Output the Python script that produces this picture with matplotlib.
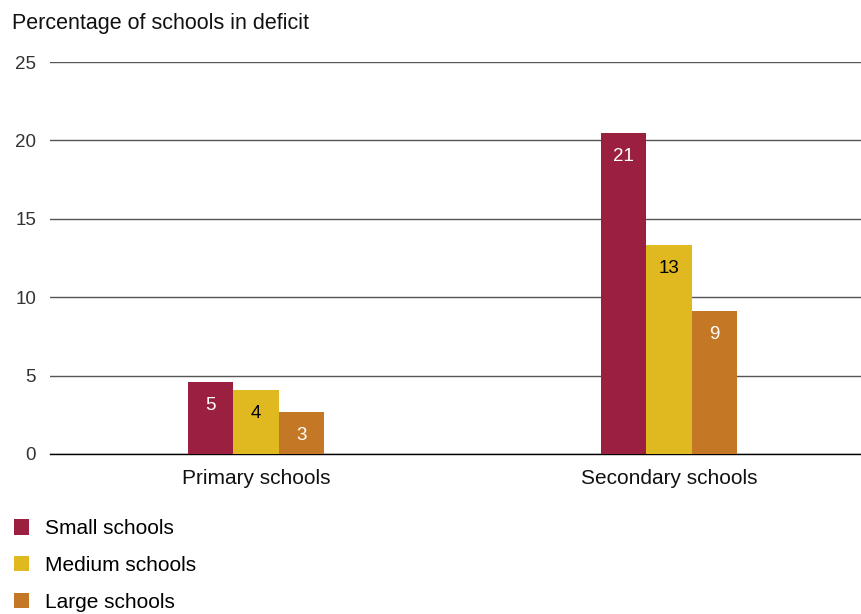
import numpy as np
import matplotlib.pyplot as plt

plt.rcParams['font.family'] = ['Liberation Sans', 'DejaVu Sans']

# Data
categories = ['Primary schools', 'Secondary schools']
series = ['Small schools', 'Medium schools', 'Large schools']
small = [4.6, 20.5]
medium = [4.1, 13.3]
large = [2.7, 9.1]
small_labels = ['5', '21']
medium_labels = ['4', '13']
large_labels = ['3', '9']
colors = ['#9b2040', '#e0b920', '#c47826']
label_colors = ['white', 'black', 'white']

fig = plt.figure(figsize=(8.62, 6.14), dpi=100)
ax = fig.add_axes([0.058, 0.2606, 0.942, 0.6384])

x = np.arange(len(categories))
w = 0.11
handles = []
all_vals = [small, medium, large]
all_labels = [small_labels, medium_labels, large_labels]
for i in range(3):
    pos = x + (i - 1) * w
    b = ax.bar(pos, all_vals[i], width=w, color=colors[i], label=series[i], zorder=3)
    handles.append(b)
    for p, v, t in zip(pos, all_vals[i], all_labels[i]):
        ax.text(p, v - 1.5, t, ha='center', va='center',
                color=label_colors[i], fontsize=13.5, zorder=4)

ax.set_ylim(0, 25)
ax.set_xlim(-0.499, 1.467)
ax.set_yticks([0, 5, 10, 15, 20, 25])
ax.yaxis.grid(True, color='#555555', linewidth=1.0)
ax.set_axisbelow(True)
ax.tick_params(axis='y', length=0, labelsize=13.5, labelcolor='#333333', pad=10)
ax.tick_params(axis='x', length=0, labelsize=15, pad=10.5)
ax.set_xticks(x)
ax.set_xticklabels(categories, color='#111111')
for s in ['top', 'right', 'left']:
    ax.spines[s].set_visible(False)
ax.spines['bottom'].set_color('black')
ax.spines['bottom'].set_linewidth(1)

fig.text(0.014, 0.962, 'Percentage of schools in deficit', fontsize=15.5,
         ha='left', va='center', color='#111111')

fig.legend(handles=handles, labels=series, loc='upper left',
           bbox_to_anchor=(0.006, 0.168), frameon=False, fontsize=15,
           handlelength=0.75, handleheight=0.75, handletextpad=0.75,
           labelspacing=0.85, borderaxespad=0)

fig.savefig('out.png', dpi=100)
